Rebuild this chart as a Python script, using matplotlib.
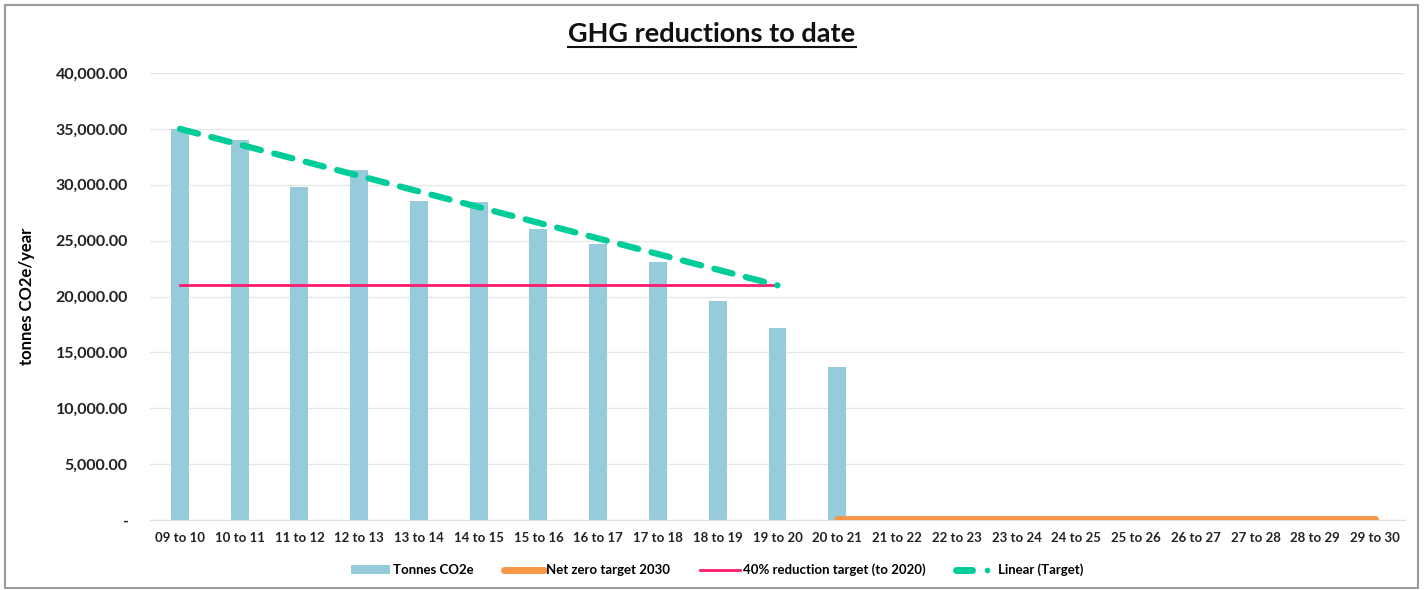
import matplotlib
matplotlib.use("Agg")
from matplotlib import pyplot as plt
from matplotlib.lines import Line2D
from matplotlib.legend_handler import HandlerTuple
from matplotlib.patches import Rectangle
from matplotlib.ticker import FuncFormatter

# Chart data.
periods = ["09 to 10", "10 to 11", "11 to 12", "12 to 13", "13 to 14", "14 to 15", "15 to 16",
           "16 to 17", "17 to 18", "18 to 19", "19 to 20", "20 to 21", "21 to 22", "22 to 23",
           "23 to 24", "24 to 25", "25 to 26", "26 to 27", "27 to 28", "28 to 29", "29 to 30"]
tonnes = [35000, 34000, 29800, 31300, 28550, 28450, 26050, 24700, 23100, 19600, 17200, 13700]
net_zero = [0] * 10
reduction_40 = [21000] * 11
linear_ends = [35000, 21000]

GREEN = "#00CC99"

plt.rcParams["font.family"] = ["Lato", "DejaVu Sans"]
plt.rcParams["font.weight"] = "bold"


def fmt(v, pos):
    # Excel accounting style: zero shows as a dash.
    if v == 0:
        return "-"
    return f"{v:,.2f}"


fig = plt.figure(figsize=(14.24, 5.9), dpi=100)
ax = fig.add_axes([150 / 1424, 70 / 590, 1255 / 1424, 447 / 590])

x = list(range(len(periods)))
bars = ax.bar(x[:len(tonnes)], tonnes, width=0.3, color="#96CBDC", label="Tonnes CO2e", zorder=2)
start = len(tonnes) - 1
nz, = ax.plot(x[start:start + len(net_zero)], [v + 120 for v in net_zero], color="#F79646",
              linewidth=5, solid_capstyle="round", label="Net zero target 2030", zorder=3)
red, = ax.plot(x[:len(reduction_40)], reduction_40, color="#FF1A6E", linewidth=2,
               label="40% reduction target (to 2020)", zorder=3)
ax.plot([x[0], x[len(reduction_40) - 1]], linear_ends, color=GREEN, linewidth=4.5,
        linestyle=(0, (3, 2.2)), dash_capstyle="round", zorder=4)

ax.set_xlim(-0.5, len(periods) - 0.5)
ax.set_ylim(0, 40000)
ax.set_yticks(range(0, 40001, 5000))
ax.yaxis.set_major_formatter(FuncFormatter(fmt))
ax.set_xticks(x)
ax.set_xticklabels(periods)
ax.grid(axis="y", color="#E6E6E6", linewidth=1, zorder=0)
for s in ["top", "right", "left"]:
    ax.spines[s].set_visible(False)
ax.spines["bottom"].set_color("#E0E0E0")
ax.tick_params(axis="both", length=0, colors="#222222")
ax.tick_params(axis="y", labelsize=11.5, pad=16)
ax.tick_params(axis="x", labelsize=9.5, pad=9)
ax.set_ylabel("tonnes CO2e/year", fontsize=12, fontweight="bold")
ax.yaxis.set_label_coords(-115 / 1255, 0.5)

title = fig.text(0.5, 1 - 34 / 590, "GHG reductions to date", ha="center", va="center",
                 fontsize=19.5, fontweight="bold", color="#111111")
# Underline the title across its rendered width.
fig.canvas.draw()
bb = title.get_window_extent().transformed(fig.transFigure.inverted())
fig.add_artist(Line2D([bb.x0, bb.x1], [1 - 47 / 590, 1 - 47 / 590], color="#111111",
                      linewidth=1.5))

# Legend entry for the trendline: a short dash and a dot.
lin_dash = Line2D([], [], color=GREEN, linewidth=5, solid_capstyle="round")
lin_dot = Line2D([], [], color=GREEN, marker="o", markersize=3, linestyle="none")
fig.legend(handles=[bars, nz, red, (lin_dash, lin_dot)],
           labels=["Tonnes CO2e", "Net zero target 2030", "40% reduction target (to 2020)",
                   "Linear (Target)"],
           handler_map={tuple: HandlerTuple(ndivide=2, pad=0.6)},
           loc="center", bbox_to_anchor=(717 / 1424, 1 - 570 / 590),
           ncol=4, frameon=False, fontsize=9.5, handlelength=3, columnspacing=2.3,
           handletextpad=0.2)

fig.add_artist(Rectangle((5 / 1424, 2 / 590), 1413 / 1424, 583 / 590, fill=False,
                         edgecolor="#9A9A9A", linewidth=1.5, transform=fig.transFigure))

fig.savefig("out.png", dpi=100)
